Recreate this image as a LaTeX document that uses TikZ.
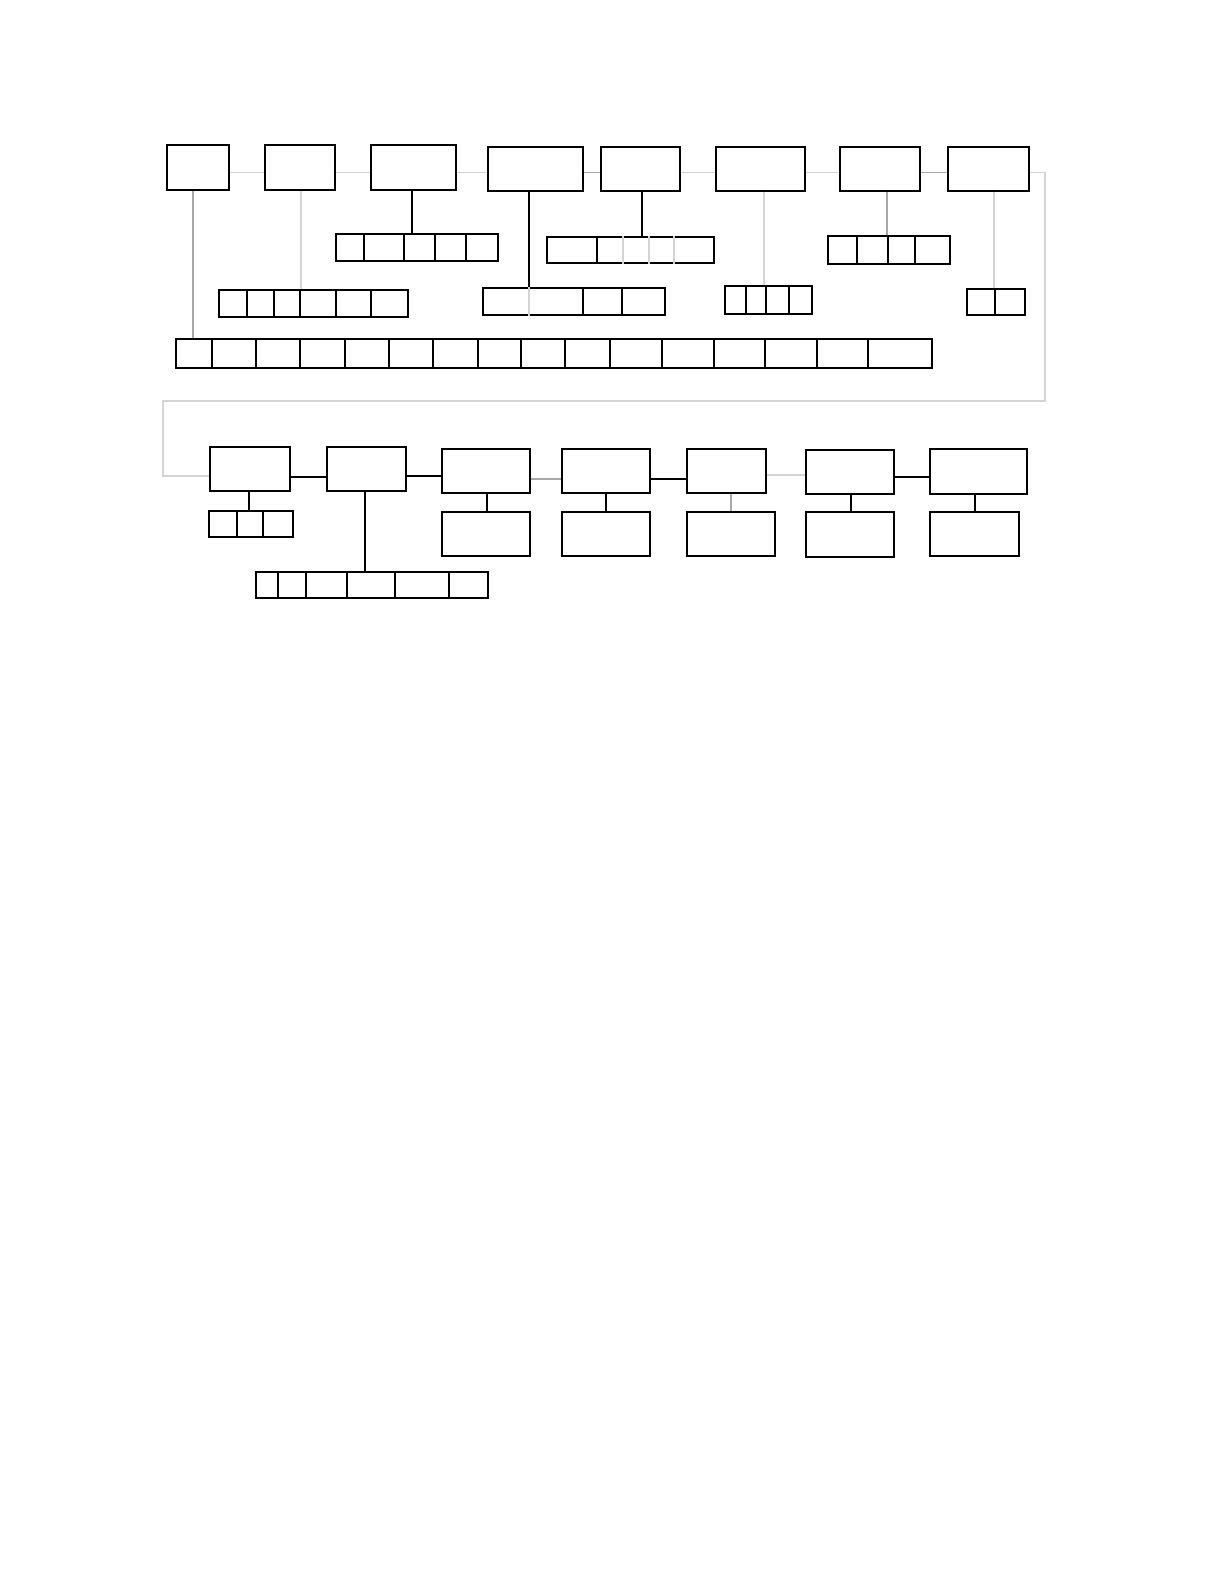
\documentclass[tikz,border=0pt]{standalone}
\usetikzlibrary{calc}
\definecolor{lg}{HTML}{D4D4D4}
\definecolor{mg}{HTML}{A8A8A8}
\tikzset{
  box/.style={draw=black, line width=0.65pt, inner sep=0pt, fill=none},
  blk/.style={draw=black, line width=0.65pt},
  lgl/.style={draw=lg, line width=0.65pt},
  mgl/.style={draw=mg, line width=0.65pt}
}
% \bxx{name}{x1}{y1}{x2}{y2}  (pixel coordinates)
\newcommand\bxx[5]{\node[box, minimum width={0.5pt*(#4-#2)}, minimum height={0.5pt*(#5-#3)}] (#1) at ({(#2+#4)/2},{(#3+#5)/2}) {};}
% \dvv{node}{style}{x list}
\newcommand\dvv[3]{\foreach \xx in {#3} {\draw[#2] (#1.north -| \xx,0) -- (#1.south -| \xx,0);}}
\begin{document}
\begin{tikzpicture}[x=0.5pt,y=-0.5pt]
\useasboundingbox (0,0) rectangle (1224,1584);
% top row
\bxx{A}{167}{145}{229}{190}
\bxx{B}{265}{145}{335}{190}
\bxx{C}{371}{145}{456}{190}
\bxx{D}{488}{147}{583}{191}
\bxx{E}{601}{147}{680}{191}
\bxx{F}{716}{147}{805}{191}
\bxx{G}{840}{147}{920}{191}
\bxx{H}{948}{147}{1029}{191}
% strips
\bxx{Cs}{336}{234}{498}{261}
\dvv{Cs}{blk}{364,404,435,466}
\bxx{Bs}{219}{290}{408}{317}
\dvv{Bs}{blk}{247,274,300,336,371}
\bxx{Ls}{176}{339}{932}{368}
\dvv{Ls}{blk}{212,256,300,345,389,433,478,521,565,610,662,714,765,817,868}
\bxx{Ds}{483}{288}{665}{315}
\dvv{Ds}{lgl}{529}
\dvv{Ds}{blk}{583,622}
\bxx{Es}{547}{237}{714}{263}
\dvv{Es}{blk}{597}
\dvv{Es}{lgl}{623,649,674}
\bxx{Fs}{725}{286}{812}{314}
\dvv{Fs}{blk}{746,766,789}
\bxx{Gs}{828}{236}{950}{264}
\dvv{Gs}{blk}{857,888,915}
\bxx{Hs}{967}{289}{1025}{315}
\dvv{Hs}{blk}{995}
% second row
\bxx{R1}{210}{447}{290}{491}
\bxx{R1s}{209}{511}{293}{537}
\dvv{R1s}{blk}{237,263}
\bxx{R2}{327}{447}{406}{491}
\bxx{R2s}{256}{572}{488}{598}
\dvv{R2s}{blk}{278,306,347,395,449}
\bxx{R3}{442}{449}{530}{493}
\bxx{R3c}{442}{512}{530}{556}
\bxx{R4}{562}{449}{650}{493}
\bxx{R4c}{562}{512}{650}{556}
\bxx{R5}{687}{449}{766}{493}
\bxx{R5c}{687}{512}{775}{556}
\bxx{R6}{806}{450}{894}{494}
\bxx{R6c}{806}{512}{894}{557}
\bxx{R7}{930}{449}{1027}{494}
\bxx{R7c}{930}{512}{1019}{556}
% helper coordinates
\coordinate (ty) at (0,172.5);
\coordinate (lx1) at (1045,0);
\coordinate (ly1) at (0,401);
\coordinate (lx2) at (163,0);
\coordinate (ly2) at (0,476);
% top row connectors
\draw[lgl] (A.east |- ty) -- (B.west |- ty);
\draw[lgl] (B.east |- ty) -- (C.west |- ty);
\draw[lgl] (C.east |- ty) -- (D.west |- ty);
\draw[mgl] (D.east |- ty) -- (E.west |- ty);
\draw[lgl] (E.east |- ty) -- (F.west |- ty);
\draw[lgl] (F.east |- ty) -- (G.west |- ty);
\draw[mgl] (G.east |- ty) -- (H.west |- ty);
% loop to second row
\draw[lgl] (H.east |- ty) -- (lx1 |- ty) -- (lx1 |- ly1) -- (lx2 |- ly1) -- (lx2 |- ly2) -- (R1.west |- ly2);
% top row drops
\draw[mgl] (A.south -| 193,0) -- (Ls.north -| 193,0);
\draw[lgl] (B.south -| 301,0) -- (Bs.north -| 301,0);
\draw[blk] (C.south -| 412,0) -- (Cs.north -| 412,0);
\draw[blk] (D.south -| 529,0) -- (Ds.north -| 529,0);
\draw[blk] (E.south -| 642,0) -- (Es.north -| 642,0);
\draw[lgl] (F.south -| 764,0) -- (Fs.north -| 764,0);
\draw[mgl] (G.south -| 887,0) -- (Gs.north -| 887,0);
\draw[lgl] (H.south -| 994,0) -- (Hs.north -| 994,0);
% second row connectors
\draw[blk] (R1.east |- 0,477) -- (R2.west |- 0,477);
\draw[blk] (R2.east |- 0,476) -- (R3.west |- 0,476);
\draw[mgl] (R3.east |- 0,479) -- (R4.west |- 0,479);
\draw[blk] (R4.east |- 0,479) -- (R5.west |- 0,479);
\draw[lgl] (R5.east |- 0,475) -- (R6.west |- 0,475);
\draw[blk] (R6.east |- 0,477) -- (R7.west |- 0,477);
% second row drops
\draw[blk] (R1.south -| 249,0) -- (R1s.north -| 249,0);
\draw[blk] (R2.south -| 365,0) -- (R2s.north -| 365,0);
\draw[blk] (R3.south -| 487,0) -- (R3c.north -| 487,0);
\draw[blk] (R4.south -| 606,0) -- (R4c.north -| 606,0);
\draw[mgl] (R5.south -| 731,0) -- (R5c.north -| 731,0);
\draw[blk] (R6.south -| 851,0) -- (R6c.north -| 851,0);
\draw[blk] (R7.south -| 975,0) -- (R7c.north -| 975,0);
\end{tikzpicture}
\end{document}
